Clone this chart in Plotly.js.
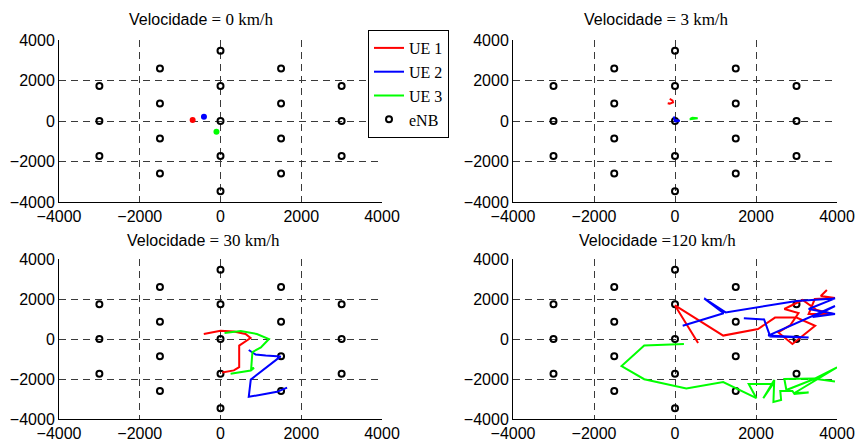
<!DOCTYPE html>
<html>
<head>
<meta charset="utf-8">
<script src="https://cdn.plot.ly/plotly-3.0.1.min.js"></script>
<style>
  html, body { margin: 0; padding: 0; background: #fff; }
  #chart { width: 857px; height: 443px; }
</style>
</head>
<body>
<div id="chart"></div>
<script>
// Base station (eNB) positions of the hexagonal 19-cell layout, in metres
const enbX = [-3000, -3000, -3000, -1500, -1500, -1500, -1500, 0, 0, 0, 0, 0, 1500, 1500, 1500, 1500, 3000, 3000, 3000];
const enbY = [1732, 0, -1732, 2598, 866, -866, -2598, 3464, 1732, 0, -1732, -3464, 2598, 866, -866, -2598, 1732, 0, -1732];

// Subplot titles (one per user speed)
const titleWords = ["Velocidade", "Velocidade", "Velocidade", "Velocidade"];
const titleSpeeds = [" = 0 km/h", " = 3 km/h", " = 30 km/h", " =120 km/h"];

// Legend labels
const ueNames = ["UE 1", "UE 2", "UE 3"];
const enbName = "eNB";

// Axis ticks
const tickValues = [-4000, -2000, 0, 2000, 4000];

// UE trajectories, 0 km/h (stationary)
const ue1_0_x = [-690];
const ue1_0_y = [50];
const ue2_0_x = [-410];
const ue2_0_y = [210];
const ue3_0_x = [-100];
const ue3_0_y = [-530];

// UE trajectories, 3 km/h
const ue1_3_x = [-130, -60, -50, -130, -180];
const ue1_3_y = [1100, 1010, 920, 860, 880];
const ue2_3_x = [-30, -10, 120, 10, -20];
const ue2_3_y = [220, 60, 10, -20, 40];
const ue3_3_x = [360, 470, 560, 430, 380];
const ue3_3_y = [90, 110, 140, 160, 120];

// UE trajectories, 30 km/h
const ue1_30_x = [-414, 0, 331, 620, 744, 513, 463, 463, 331, 41];
const ue1_30_y = [248, 413, 380, 248, 50, -248, -330, -1405, -1570, -1670];
const ue2_30_x = [700, 870, 1120, 1490, 750, 700, 1100, 1400, 1650];
const ue2_30_y = [-550, -780, -830, -870, -2030, -2890, -2750, -2640, -2430];
const ue3_30_x = [100, 500, 900, 1200, 1000, 790, 760, 830, 750, 460, 250];
const ue3_30_y = [300, 400, 250, 0, -420, -650, -1480, -1450, -1580, -1660, -1740];

// UE trajectories, 120 km/h
const ue1_120_x = [570, 0, 1190, 2050, 2470, 3000, 3460, 2900, 2550, 2850, 3050, 2700, 3150, 3500, 3900, 3300, 3450, 3950, 3600, 3750];
const ue1_120_y = [-200, 1680, 170, 500, 1070, 1070, 660, -250, 330, 700, 1300, 1500, 1950, 1450, 1250, 1250, 2000, 2050, 2150, 2450];
const ue2_120_x = [190, 1200, 720, 1250, 3000, 3950, 3300, 3950, 3400, 3950, 2300, 3300, 2350, 2200, 1700];
const ue2_120_y = [660, 1290, 2030, 1330, 1900, 2030, 1500, 1250, 1100, 1650, 170, 70, 130, 980, 1040];
const ue3_120_x = [220, -760, -1320, -760, 280, 1190, 2010, 1820, 2420, 2180, 2450, 2430, 2620, 2600, 2900, 2950, 3300, 2950, 4000, 3450, 2700, 2750, 3450, 3950];
const ue3_120_y = [-250, -330, -1350, -2010, -2470, -2150, -2960, -2250, -2250, -2960, -2050, -3150, -3050, -2600, -2600, -2750, -2680, -2700, -1420, -1980, -2000, -2550, -1990, -2130];

const ueColors = ["#ff0000", "#0000ff", "#00ff00"];

const panels = [
  { ue: [[ue1_0_x, ue1_0_y], [ue2_0_x, ue2_0_y], [ue3_0_x, ue3_0_y]], dots: true },
  { ue: [[ue1_3_x, ue1_3_y], [ue2_3_x, ue2_3_y], [ue3_3_x, ue3_3_y]], dots: false },
  { ue: [[ue1_30_x, ue1_30_y], [ue2_30_x, ue2_30_y], [ue3_30_x, ue3_30_y]], dots: false },
  { ue: [[ue1_120_x, ue1_120_y], [ue2_120_x, ue2_120_y], [ue3_120_x, ue3_120_y]], dots: false }
];

// Panel placement in pixels (left, right, top, bottom) on the 857x443 page
const W = 857, H = 443;
const boxes = [
  [59, 382, 40, 202],
  [513, 837, 40, 202],
  [59, 382, 259, 419],
  [513, 837, 259, 419]
];
const titleCenters = [[201, 20], [656, 20], [203, 240], [657, 240]];

const traces = [];
const layout = {
  width: W, height: H,
  margin: { l: 0, r: 0, t: 0, b: 0 },
  paper_bgcolor: "#fff",
  plot_bgcolor: "#fff",
  showlegend: true,
  legend: {
    x: 368 / W, y: 1 - 30 / H, xanchor: "left", yanchor: "top",
    bgcolor: "#fff", bordercolor: "#000", borderwidth: 1,
    font: { family: "Liberation Serif, Times New Roman, serif", size: 16, color: "#000" },
    itemwidth: 30, tracegroupgap: 0
  },
  annotations: []
};

panels.forEach((p, i) => {
  const n = i + 1;
  const xa = n === 1 ? "x" : "x" + n;
  const ya = n === 1 ? "y" : "y" + n;
  const b = boxes[i];
  const axisCommon = {
    range: [-4000, 4000],
    tickvals: tickValues,
    showgrid: true, gridcolor: "#3a3a3a", gridwidth: 1, griddash: "7px,5px",
    zeroline: false,
    showline: true, linecolor: "#000", linewidth: 1,
    ticks: "",
    tickfont: { family: "Liberation Sans, Arial, sans-serif", size: 16, color: "#000" },
    fixedrange: true
  };
  layout["xaxis" + (n === 1 ? "" : n)] = Object.assign({}, axisCommon, {
    domain: [b[0] / W, b[1] / W], anchor: ya, ticklabelstandoff: 0
  });
  layout["yaxis" + (n === 1 ? "" : n)] = Object.assign({}, axisCommon, {
    domain: [1 - b[3] / H, 1 - b[2] / H], anchor: xa
  });

  // base stations
  traces.push({
    type: "scatter", mode: "markers", x: enbX, y: enbY, xaxis: xa, yaxis: ya,
    name: enbName, legendgroup: "enb", showlegend: n === 1, legendrank: 4,
    marker: { symbol: "circle-open", size: 6, color: "#000", line: { width: 2, color: "#000" } },
    hoverinfo: "skip"
  });

  // user trajectories
  p.ue.forEach((xy, k) => {
    traces.push({
      type: "scatter", mode: p.dots ? "markers" : "lines",
      x: xy[0], y: xy[1], xaxis: xa, yaxis: ya,
      name: ueNames[k], legendgroup: "ue" + k, showlegend: n === 4, legendrank: k + 1,
      line: { color: ueColors[k], width: 2 },
      marker: { color: ueColors[k], size: 6 },
      hoverinfo: "skip"
    });
  });

  layout.annotations.push({
    xref: "paper", yref: "paper",
    x: titleCenters[i][0] / W, y: 1 - titleCenters[i][1] / H,
    xanchor: "center", yanchor: "middle", showarrow: false,
    text: titleWords[i] + "<span style=\"font-family:'Liberation Serif', 'Times New Roman', serif; font-size:17px\">" + titleSpeeds[i] + "</span>",
    font: { family: "Liberation Sans, Arial, sans-serif", size: 16, color: "#000" }
  });
});

Plotly.newPlot("chart", traces, layout, { staticPlot: true, displayModeBar: false });
</script>
</body>
</html>
